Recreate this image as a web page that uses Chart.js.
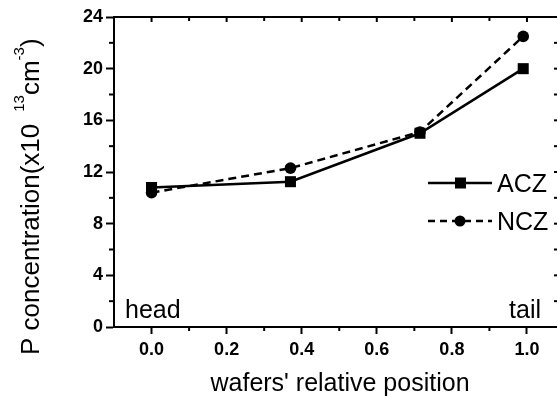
<!DOCTYPE html>
<html><head><meta charset="utf-8">
<script src="https://cdn.jsdelivr.net/npm/chart.js@4/dist/chart.umd.min.js"></script>
<style>html,body{margin:0;padding:0;background:#fff;} canvas{display:block;}</style>
</head><body>
<canvas id="c" width="557" height="401"></canvas>
<script>
// ---- data ----
const positions = [0.0, 0.37, 0.715, 0.99];
const aczValues = [10.8, 11.25, 15.0, 20.0];
const nczValues = [10.4, 12.3, 15.1, 22.5];
const xTickValues = [0, 0.2, 0.4, 0.6, 0.8, 1.0];
const xMinorTicks = [0.1, 0.3, 0.5, 0.7, 0.9];
const yTickValues = [0, 4, 8, 12, 16, 20, 24];
const yMinorTicks = [2, 6, 10, 14, 18, 22];
const seriesNames = ['ACZ', 'NCZ'];
const xTitle = "wafers' relative position";
const yTitleParts = ['P concentration(x10', '13', 'cm', '-3', ')'];
const endLabels = ['head', 'tail'];

const FONT = "'Liberation Sans', Arial, Helvetica, sans-serif";

const framePlugin = {
  id: 'frame',
  afterDraw(chart) {
    const ctx = chart.ctx;
    const ca = chart.chartArea;
    const xs = chart.scales.x, ys = chart.scales.y;
    ctx.save();
    ctx.strokeStyle = '#000';
    ctx.fillStyle = '#000';
    ctx.lineWidth = 2;
    // top spine
    ctx.beginPath(); ctx.moveTo(ca.left - 1, ca.top); ctx.lineTo(ca.right, ca.top); ctx.stroke();
    // top ticks (inward)
    xTickValues.forEach(v => { const p = xs.getPixelForValue(v); ctx.beginPath(); ctx.moveTo(p, ca.top); ctx.lineTo(p, ca.top + 5); ctx.stroke(); });
    xMinorTicks.forEach(v => { const p = xs.getPixelForValue(v); ctx.beginPath(); ctx.moveTo(p, ca.top); ctx.lineTo(p, ca.top + 4); ctx.stroke(); });
    // bottom minor ticks (outward)
    xMinorTicks.forEach(v => { const p = xs.getPixelForValue(v); ctx.beginPath(); ctx.moveTo(p, ca.bottom); ctx.lineTo(p, ca.bottom + 4); ctx.stroke(); });
    // left minor ticks (outward)
    yMinorTicks.forEach(v => { const p = ys.getPixelForValue(v); ctx.beginPath(); ctx.moveTo(ca.left, p); ctx.lineTo(ca.left - 5, p); ctx.stroke(); });
    // right ticks (inward, spine cropped)
    yTickValues.concat(yMinorTicks).forEach(v => { const p = ys.getPixelForValue(v); ctx.beginPath(); ctx.moveTo(ca.right, p); ctx.lineTo(ca.right - 3, p); ctx.stroke(); });

    // head / tail labels
    ctx.font = '25px ' + FONT;
    ctx.textBaseline = 'alphabetic';
    ctx.textAlign = 'left';
    ctx.fillText(endLabels[0], 125, 318);
    ctx.textAlign = 'right';
    ctx.fillText(endLabels[1], 541, 318);

    // legend
    const legendRows = [
      { name: seriesNames[0], y: 183, dash: [], style: 'rect' },
      { name: seriesNames[1], y: 221, dash: [7, 5], style: 'circle' }
    ];
    legendRows.forEach(r => {
      ctx.setLineDash(r.dash);
      ctx.lineWidth = 2.5;
      ctx.beginPath(); ctx.moveTo(428, r.y); ctx.lineTo(492, r.y); ctx.stroke();
      ctx.setLineDash([]);
      if (r.style === 'rect') { ctx.fillRect(455, r.y - 5.5, 11, 11); }
      else { ctx.beginPath(); ctx.arc(460, r.y, 5.5, 0, Math.PI * 2); ctx.fill(); }
      ctx.font = '25px ' + FONT;
      ctx.textAlign = 'left';
      ctx.fillText(r.name, 497, r.y + 9);
    });

    // x title
    ctx.font = '25px ' + FONT;
    ctx.textAlign = 'center';
    ctx.fillText(xTitle, 340, 391);

    // y title (rotated, with superscripts)
    ctx.save();
    ctx.translate(39, 355);
    ctx.rotate(-Math.PI / 2);
    ctx.textAlign = 'left';
    let x = 0;
    const main = '26px ' + FONT, sup = '15px ' + FONT;
    ctx.font = main; ctx.fillText(yTitleParts[0], x, 0); x += ctx.measureText(yTitleParts[0]).width + 12;
    ctx.font = sup; ctx.fillText(yTitleParts[1], x, -15); x += ctx.measureText(yTitleParts[1]).width;
    ctx.font = main; ctx.fillText(yTitleParts[2], x, 0); x += ctx.measureText(yTitleParts[2]).width;
    ctx.font = sup; ctx.fillText(yTitleParts[3], x, -15); x += ctx.measureText(yTitleParts[3]).width;
    ctx.font = main; ctx.fillText(yTitleParts[4], x, 0);
    ctx.restore();

    ctx.restore();
  }
};

new Chart(document.getElementById('c'), {
  type: 'scatter',
  data: {
    datasets: [
      {
        label: seriesNames[0],
        data: positions.map((x, i) => ({ x: x, y: aczValues[i] })),
        showLine: true, tension: 0,
        borderColor: '#000', backgroundColor: '#000', borderWidth: 2.5,
        pointStyle: 'rect', pointRadius: 7.8, pointBorderWidth: 0
      },
      {
        label: seriesNames[1],
        data: positions.map((x, i) => ({ x: x, y: nczValues[i] })),
        showLine: true, tension: 0,
        borderColor: '#000', backgroundColor: '#000', borderWidth: 2.5, borderDash: [8, 5],
        pointStyle: 'circle', pointRadius: 5.8, pointBorderWidth: 0
      }
    ]
  },
  options: {
    responsive: false, animation: false, devicePixelRatio: 1,
    layout: { autoPadding: false, padding: { top: 17, right: 0, left: 0, bottom: 0 } },
    plugins: { legend: { display: false }, tooltip: { enabled: false } },
    scales: {
      x: {
        type: 'linear', min: -0.1, max: 1.08,
        afterBuildTicks: s => { s.ticks = xTickValues.map(v => ({ value: v })); },
        afterFit: s => { s.height = 74; s.paddingLeft = 0; s.paddingRight = 0; },
        grid: { display: true, drawOnChartArea: false, drawTicks: true, tickLength: 7, tickWidth: 2, tickColor: '#000' },
        border: { display: true, color: '#000', width: 2 },
        ticks: { color: '#000', font: { family: FONT, size: 18, weight: 'bold' }, padding: 5, maxRotation: 0, autoSkip: false,
          callback: v => Number(v).toFixed(1) }
      },
      y: {
        type: 'linear', min: 0, max: 24,
        afterBuildTicks: s => { s.ticks = yTickValues.map(v => ({ value: v })); },
        afterFit: s => { s.width = 114; s.paddingTop = 0; s.paddingBottom = 0; },
        grid: { display: true, drawOnChartArea: false, drawTicks: true, tickLength: 8, tickWidth: 2, tickColor: '#000' },
        border: { display: true, color: '#000', width: 2 },
        ticks: { color: '#000', font: { family: FONT, size: 18, weight: 'bold' }, padding: 3, autoSkip: false,
          callback: v => String(v) }
      }
    }
  },
  plugins: [framePlugin]
});
</script>
</body></html>
